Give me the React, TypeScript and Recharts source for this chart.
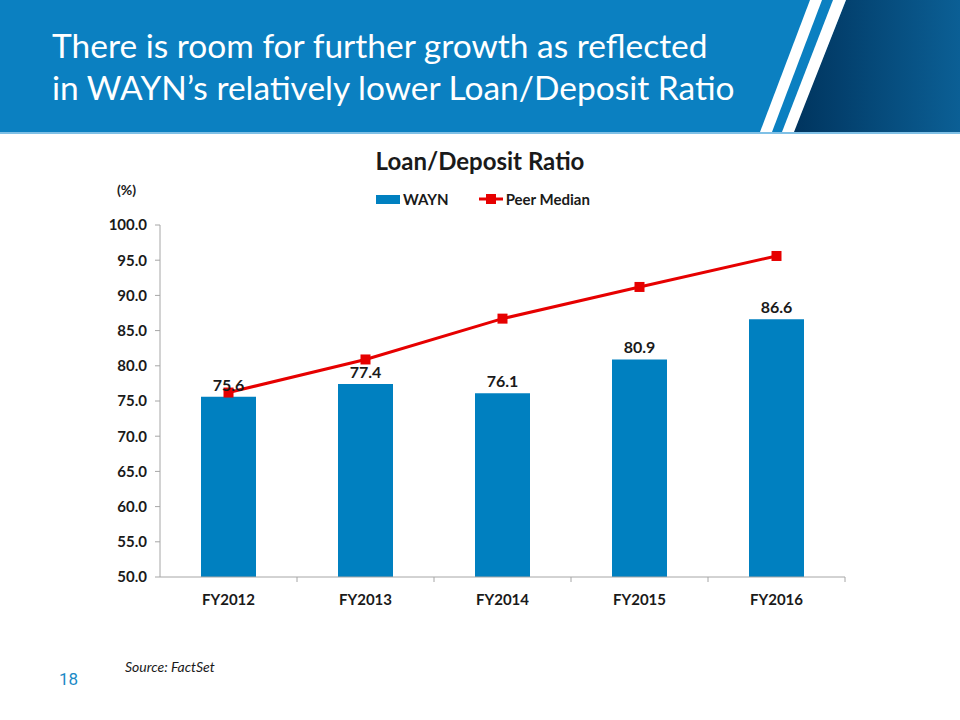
import { ComposedChart, Bar, Line, XAxis, YAxis, LabelList } from "recharts";

const years = ["FY2012", "FY2013", "FY2014", "FY2015", "FY2016"];
const waynRatio = [75.6, 77.4, 76.1, 80.9, 86.6];
const peerMedian = [76.2, 80.9, 86.7, 91.2, 95.6];
const yTicks = [50, 55, 60, 65, 70, 75, 80, 85, 90, 95, 100];

const FONT = "Lato, 'Open Sans', sans-serif";
const BAR_BLUE = "#0080c0";
const RED = "#e60000";
const AXIS_GREY = "#a6a6a6";
const TICK_SIZE = 5;
const TICK_MARGIN = 12;

const SquareDot = (props: any) => {
  const { cx, cy } = props;
  if (cx == null || cy == null) return null;
  return <rect x={cx - 5} y={cy - 5} width={10} height={10} fill={RED} />;
};

// category label plus tick marks on the band edges, as in the original
const YearTick = (props: any) => {
  const { x, y, payload, index } = props;
  const half = payload && payload.offset ? payload.offset : 0;
  const y1 = y - TICK_SIZE - TICK_MARGIN;
  const y2 = y - TICK_MARGIN;
  return (
    <g>
      {half > 0 && index > 0 && <line x1={x - half} x2={x - half} y1={y1} y2={y2} stroke={AXIS_GREY} />}
      {half > 0 && index === years.length - 1 && (
        <line x1={x + half} x2={x + half} y1={y1} y2={y2} stroke={AXIS_GREY} />
      )}
      <text
        x={x}
        y={y}
        dy="0.71em"
        textAnchor="middle"
        fontFamily={FONT}
        fontWeight={700}
        fontSize={15}
        fill="#1a1a1a"
      >
        {payload.value}
      </text>
    </g>
  );
};

function Header() {
  return (
    <div style={{ position: "absolute", left: 0, top: 0, width: 960, height: 134 }}>
      <svg width={960} height={134} style={{ position: "absolute", left: 0, top: 0 }}>
        <defs>
          <linearGradient id="dark" x1="0" y1="0" x2="1" y2="0">
            <stop offset="0" stopColor="#00345e" />
            <stop offset="1" stopColor="#0b5f95" />
          </linearGradient>
        </defs>
        <rect x={0} y={0} width={960} height={132} fill="#0b80c1" />
        <polygon points="846,0 960,0 960,132 793,132" fill="url(#dark)" />
        <polygon points="810,0 822,0 772,132 760,132" fill="#ffffff" />
        <polygon points="833,0 846,0 794,132 782,132" fill="#ffffff" />
        <rect x={0} y={132} width={960} height={2} fill="#7fc0e6" />
      </svg>
      <div
        style={{
          position: "absolute",
          left: 52,
          top: 24,
          color: "#ffffff",
          fontFamily: FONT,
          fontSize: 33.5,
          lineHeight: "42px",
        }}
      >
        There is room for further growth as reflected
        <br />
        in WAYN’s relatively lower Loan/Deposit Ratio
      </div>
    </div>
  );
}

function LegendBox() {
  return (
    <div
      style={{
        position: "absolute",
        top: 190,
        left: 376,
        display: "flex",
        alignItems: "center",
        fontFamily: FONT,
        fontWeight: 700,
        fontSize: 15,
        color: "#1a1a1a",
      }}
    >
      <span style={{ display: "inline-block", width: 24, height: 9, background: BAR_BLUE, marginRight: 3 }} />
      <span style={{ marginRight: 30 }}>WAYN</span>
      <svg width={24} height={12} style={{ marginRight: 3 }}>
        <line x1={0} y1={6} x2={24} y2={6} stroke={RED} strokeWidth={3} />
        <rect x={7} y={1} width={10} height={10} fill={RED} />
      </svg>
      <span>Peer Median</span>
    </div>
  );
}

export default function App() {
  const data = years.map((y, i) => ({ year: y, wayn: waynRatio[i], peer: peerMedian[i] }));
  const tickStyle = { fontFamily: FONT, fontWeight: 700, fontSize: 15, fill: "#1a1a1a" };

  return (
    <div style={{ position: "absolute", left: 0, top: 0, width: 960, height: 720, background: "#fff", overflow: "hidden" }}>
      <Header />
      <div
        style={{
          position: "absolute",
          top: 146,
          left: 0,
          width: 960,
          textAlign: "center",
          fontFamily: FONT,
          fontWeight: 700,
          fontSize: 24,
          color: "#1a1a1a",
        }}
      >
        Loan/Deposit Ratio
      </div>
      <LegendBox />
      <div style={{ position: "absolute", top: 181, left: 117, fontFamily: FONT, fontWeight: 700, fontSize: 14, color: "#1a1a1a" }}>
        (%)
      </div>
      <div style={{ position: "absolute", left: 0, top: 0 }}>
        <ComposedChart width={960} height={720} data={data} margin={{ top: 225, right: 115, left: 100, bottom: 103 }}>
          <XAxis
            dataKey="year"
            height={40}
            tick={<YearTick />}
            tickLine={false}
            tickSize={TICK_SIZE}
            tickMargin={TICK_MARGIN}
            axisLine={{ stroke: AXIS_GREY }}
          />
          <YAxis
            domain={[50, 100]}
            ticks={yTicks}
            width={60}
            tick={tickStyle}
            tickFormatter={(v: number) => v.toFixed(1)}
            tickLine={{ stroke: AXIS_GREY }}
            tickSize={5}
            tickMargin={8}
            axisLine={{ stroke: AXIS_GREY }}
            allowDataOverflow
          />
          <Bar dataKey="wayn" fill={BAR_BLUE} barSize={55} isAnimationActive={false}>
            <LabelList
              dataKey="wayn"
              position="top"
              offset={6}
              formatter={(v: number) => v.toFixed(1)}
              style={{ fontFamily: FONT, fontWeight: 700, fontSize: 16, fill: "#1a1a1a" }}
            />
          </Bar>
          <Line
            dataKey="peer"
            stroke={RED}
            strokeWidth={3}
            dot={<SquareDot />}
            activeDot={false}
            isAnimationActive={false}
          />
        </ComposedChart>
      </div>
      <div style={{ position: "absolute", left: 125, top: 658, fontFamily: FONT, fontStyle: "italic", fontSize: 14, color: "#1a1a1a" }}>
        Source: FactSet
      </div>
      <div style={{ position: "absolute", left: 59, top: 669, fontFamily: "Roboto, 'Open Sans', sans-serif", fontSize: 17, color: "#1a8ac6" }}>
        18
      </div>
    </div>
  );
}
